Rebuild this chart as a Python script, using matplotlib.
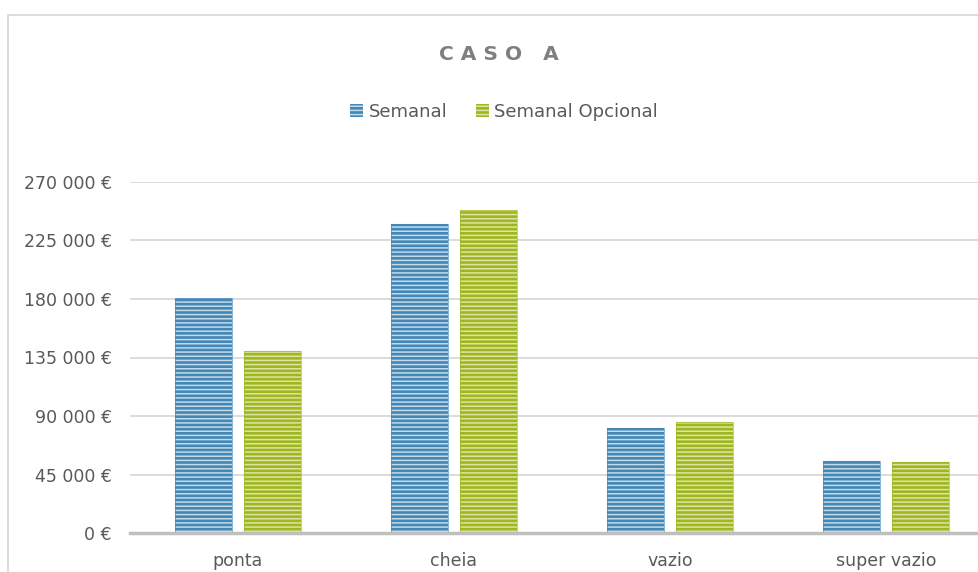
import numpy as np
import matplotlib
matplotlib.use('Agg')
import matplotlib.pyplot as plt
from matplotlib.patches import Patch, Rectangle

# Data
categories = ['ponta', 'cheia', 'vazio', 'super vazio']
semanal = [181000, 238000, 81000, 55500]
semanal_opcional = [140000, 248500, 85500, 54500]
yticks = [0, 45000, 90000, 135000, 180000, 225000, 270000]
ytick_labels = ['0 €', '45 000 €', '90 000 €', '135 000 €', '180 000 €', '225 000 €', '270 000 €']

# Styles
blue, blue_light = '#4287b6', '#c4dbea'
green, green_light = '#9fb622', '#dde6a0'
txt = '#595959'
plt.rcParams['font.family'] = ['DejaVu Sans']
plt.rcParams['hatch.linewidth'] = 1.1

W, H = 979, 572
fig = plt.figure(figsize=[W/100, H/100], dpi=100)
ax = fig.add_axes([130/W, (H-533)/H, 864/W, 351/H])

x = np.arange(len(categories))
bw = 0.264
off = 0.159
for vals, col, light, sign in [(semanal, blue, blue_light, -1), (semanal_opcional, green, green_light, 1)]:
    ax.bar(x + sign*off, vals, width=bw, color=col, edgecolor=light, hatch='----',
           linewidth=0, zorder=3)
    ax.bar(x + sign*off, vals, width=bw, facecolor='none', edgecolor=col,
           linewidth=0.8, alpha=0.6, zorder=4)

ax.set_xlim(-0.5, len(categories) - 0.5)
ax.set_ylim(0, 270000)
ax.set_yticks(yticks)
ax.set_yticklabels(ytick_labels, color=txt, fontsize=12.5)
ax.set_xticks(x)
ax.set_xticklabels(categories, color=txt, fontsize=12.5)
ax.tick_params(length=0, pad=13, axis='y')
ax.tick_params(length=0, pad=14, axis='x')
ax.grid(axis='y', color='#d9d9d9', lw=1.3, zorder=0)
for s in ['top', 'right', 'left']:
    ax.spines[s].set_visible(False)
ax.spines['bottom'].set_color('#bfbfbf')
ax.spines['bottom'].set_linewidth(2.5)
ax.spines['bottom'].set_zorder(5)

# Chart border
fig.patches.append(Rectangle((8.5/W, -0.1), 2.0, (H-14.5)/H + 0.1, transform=fig.transFigure,
                             fill=False, edgecolor='#d9d9d9', lw=1.3))

fig.text(0.51, (H-55)/H, 'C A S O   A', ha='center', va='center', fontsize=14.5,
         fontweight='bold', color='#7f7f7f')

handles = [Patch(facecolor=blue, edgecolor=blue_light, hatch='----', lw=0),
           Patch(facecolor=green, edgecolor=green_light, hatch='----', lw=0)]
fig.legend(handles, ['Semanal', 'Semanal Opcional'], loc='center', bbox_to_anchor=(0.515, (H-112)/H),
           ncol=2, frameon=False, fontsize=13, labelcolor=txt, handlelength=0.7, handleheight=0.7,
           handletextpad=0.3, columnspacing=1.6)

fig.savefig('out.png', dpi=100)
